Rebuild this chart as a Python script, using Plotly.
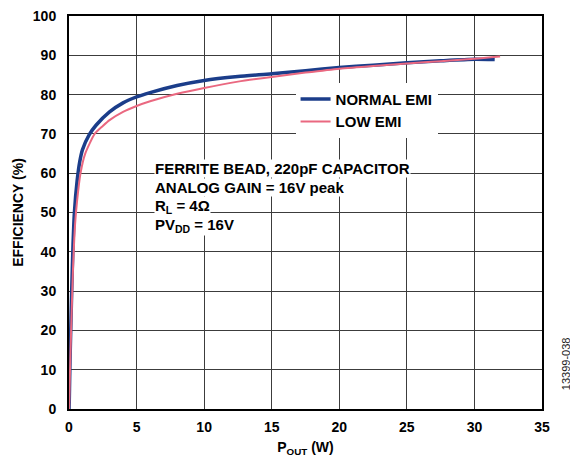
import plotly.graph_objects as go

# --- DATA ---
normal_x = [0.0, 0.02, 0.05, 0.1, 0.2, 0.3, 0.4, 0.6, 0.8, 1.0, 1.5, 2.0, 3.0, 4.0, 5.0,
            6.0, 8.0, 10.0, 12.5, 15.0, 17.5, 20.0, 22.5, 25.0, 27.5, 30.0, 31.5]
normal_y = [0.0, 2.0, 8.0, 16.0, 30.0, 42.0, 50.0, 58.0, 63.0, 66.0, 69.8, 72.2, 75.6, 77.9, 79.4,
            80.5, 82.3, 83.6, 84.6, 85.3, 86.1, 86.9, 87.5, 88.1, 88.6, 89.0, 88.9]

low_x = [0.0, 0.02, 0.05, 0.1, 0.2, 0.3, 0.45, 0.6, 0.85, 1.2, 1.9, 2.5, 3.0, 4.0, 5.0,
         6.0, 8.0, 10.0, 12.5, 15.0, 17.5, 20.0, 22.5, 25.0, 27.5, 30.0, 31.9]
low_y = [0.0, 1.0, 6.0, 13.0, 25.0, 36.0, 47.0, 53.0, 60.0, 65.0, 70.0, 72.0, 73.5, 75.6, 77.1,
         78.3, 80.2, 81.7, 83.3, 84.5, 85.6, 86.6, 87.3, 87.9, 88.5, 89.1, 89.7]

series_names = ["NORMAL EMI", "LOW EMI"]
note_lines = [
    "FERRITE BEAD, 220pF CAPACITOR",
    "ANALOG GAIN = 16V peak",
    "R<sub>L</sub> = 4Ω",
    "PV<sub>DD</sub> = 16V",
]

FONT = "Liberation Sans, Arial, Helvetica, sans-serif"
BLUE = "#1b3d8a"
PINK = "#ea6880"

fig = go.Figure()
fig.add_trace(go.Scatter(x=normal_x, y=normal_y, mode="lines", name=series_names[0],
                         line=dict(color=BLUE, width=3.5, shape="spline", smoothing=0.6)))
fig.add_trace(go.Scatter(x=low_x, y=low_y, mode="lines", name=series_names[1],
                         line=dict(color=PINK, width=2, shape="spline", smoothing=0.6)))

# note block, one white box per line like the original
note_y = [61.2, 56.4, 51.5, 46.7]
for txt, yy in zip(note_lines, note_y):
    fig.add_annotation(x=6.3, y=yy, xref="x", yref="y", text=txt, showarrow=False,
                       xanchor="left", yanchor="middle", bgcolor="white", borderpad=0,
                       font=dict(family=FONT, size=15, color="black", weight="bold"))

# figure id on the right edge
fig.add_annotation(x=1.0, y=0.114, xref="paper", yref="paper", xshift=24, text="13399-038",
                   textangle=-90, showarrow=False, xanchor="center", yanchor="middle",
                   font=dict(family=FONT, size=11, color="#222"))

axis_common = dict(showgrid=True, gridcolor="#3c3c3c", gridwidth=1.4,
                   showline=True, linecolor="black", linewidth=2, mirror=True,
                   ticks="", zeroline=False, automargin=False, ticklabeloverflow="allow",
                   tickfont=dict(family=FONT, size=14, color="black", weight="bold"))

# page body adds an 8px offset, so the figure is 8px smaller than the window
fig.update_layout(
    width=570, height=455,
    margin=dict(l=61, r=36, t=8, b=54),
    paper_bgcolor="white", plot_bgcolor="white",
    font=dict(family=FONT, color="black"),
    xaxis=dict(range=[0, 35], dtick=5, ticklabelstandoff=4,
               title=dict(text="P<sub>OUT</sub> (W)", standoff=8,
                          font=dict(family=FONT, size=14, color="black", weight="bold")),
               **axis_common),
    yaxis=dict(range=[0, 100], dtick=10, ticklabelstandoff=8,
               title=dict(text="EFFICIENCY (%)", standoff=6,
                          font=dict(family=FONT, size=14, color="black", weight="bold")),
               **axis_common),
    legend=dict(x=0.479, y=0.83, xanchor="left", yanchor="top", bgcolor="white",
                borderwidth=0, itemwidth=30, tracegroupgap=0,
                font=dict(family=FONT, size=15, color="black", weight="bold")),
    showlegend=True,
)

fig.write_html("out.html")
